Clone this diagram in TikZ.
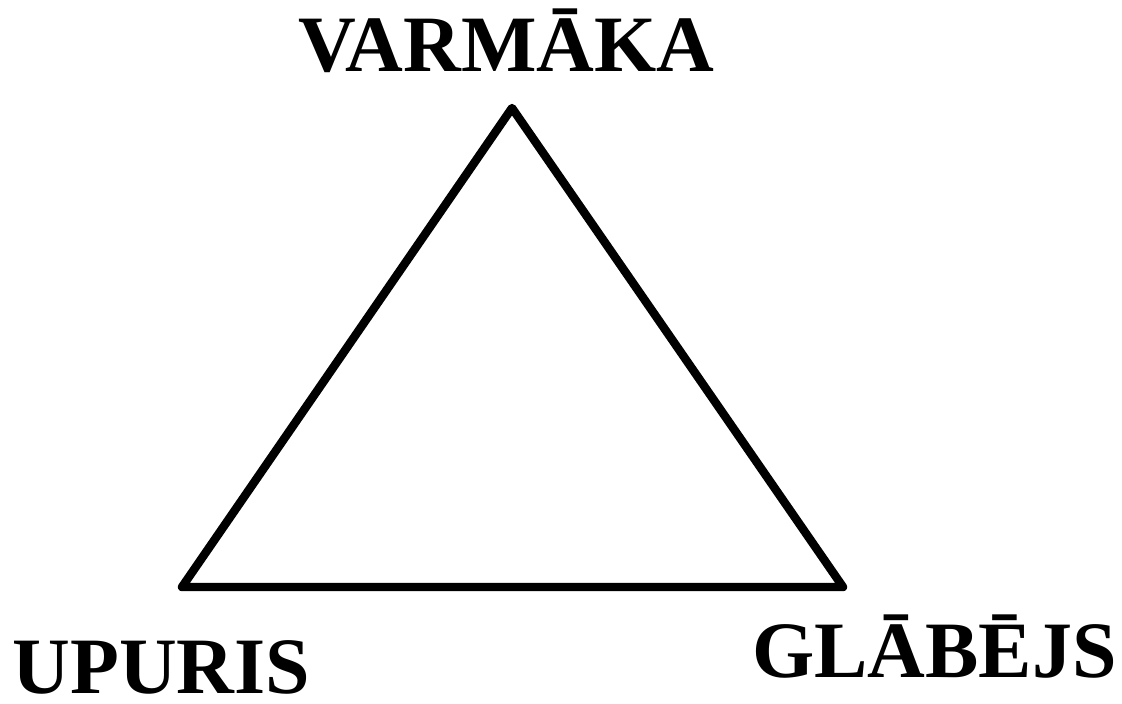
\documentclass[tikz,border=0pt]{standalone}
\usepackage{fontspec}
\setmainfont{Liberation Serif}

\begin{document}
\begin{tikzpicture}[
  role/.style={font=\fontsize{45.5}{50}\selectfont\bfseries, anchor=base, inner sep=0pt},
  edge/.style={line width=4.8pt, line join=round, line cap=round}
]
\useasboundingbox (0,0) rectangle (22.44,-14.06);

\coordinate (apex) at (10.24,-2.16);
\coordinate (lcorner) at (3.64,-11.74);
\coordinate (rcorner) at (16.86,-11.74);

\draw[edge] (apex) -- (rcorner) -- (lcorner) -- cycle;

\node[role] (varmaka) at (10.13,-1.44) {VARMĀKA};
\node[role] (upuris) at (3.23,-13.86) {UPURIS};
\node[role] (glabejs) at (18.69,-13.54) {GLĀBĒJS};

\end{tikzpicture}
\end{document}
